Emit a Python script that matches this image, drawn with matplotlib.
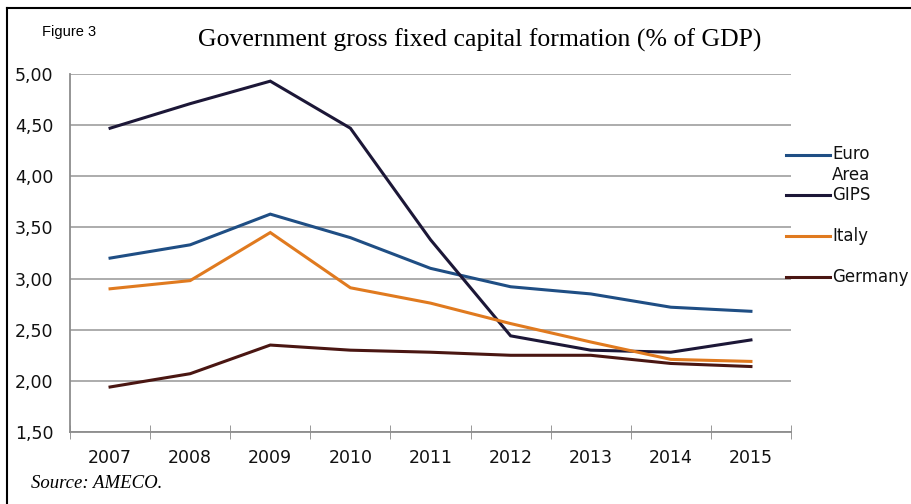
import matplotlib.pyplot as plt
from matplotlib.lines import Line2D
import numpy as np

# Data
years = ['2007', '2008', '2009', '2010', '2011', '2012', '2013', '2014', '2015']
euro_area = [3.20, 3.33, 3.63, 3.40, 3.10, 2.92, 2.85, 2.72, 2.68]
gips = [4.47, 4.71, 4.93, 4.47, 3.38, 2.44, 2.30, 2.28, 2.40]
italy = [2.90, 2.98, 3.45, 2.91, 2.76, 2.56, 2.38, 2.21, 2.19]
germany = [1.94, 2.07, 2.35, 2.30, 2.28, 2.25, 2.25, 2.17, 2.14]

series_names = ['Euro\nArea', 'GIPS', 'Italy', 'Germany']
colors = ['#1f4e84', '#1c1737', '#e07a1f', '#4a1612']

fig = plt.figure(figsize=(9.11, 5.04), dpi=100)
ax = fig.add_axes([70 / 911, 1 - 432 / 504, (791 - 70) / 911, (432 - 74) / 504])

x = np.arange(len(years))
for vals, c in zip([euro_area, gips, italy, germany], colors):
    ax.plot(x, vals, color=c, lw=2.2, solid_joinstyle='miter')

yt = np.arange(1.5, 5.01, 0.5)
ax.set_xlim(-0.5, len(years) - 0.5)
ax.set_ylim(1.5, 5.0)
ax.set_yticks(yt)
ax.set_yticklabels([f'{v:.2f}'.replace('.', ',') for v in yt])
ax.set_xticks(x)
ax.set_xticklabels(years)
ax.set_xticks(np.arange(-0.5, len(years)), minor=True)
ax.tick_params(axis='x', which='major', length=0, pad=12, labelsize=12.5, colors='#111111')
ax.tick_params(axis='x', which='minor', length=10, direction='inout', color='#888888')
ax.tick_params(axis='y', length=0, pad=12, labelsize=12.5, colors='#111111')
ax.grid(axis='y', color='#a6a6a6', lw=1.3)
ax.set_axisbelow(True)
for s in ['top', 'right']:
    ax.spines[s].set_visible(False)
for s in ['left', 'bottom']:
    ax.spines[s].set_color('#8c8c8c')
    ax.spines[s].set_linewidth(1.3)

# legend drawn by hand on the right
leg_y = [155, 195, 236, 277]
for name, c, yy in zip(series_names, colors, leg_y):
    fy = 1 - yy / 504
    fig.add_artist(Line2D([786 / 911, 830 / 911], [fy, fy], color=c, lw=2.2))
    if '\n' in name:
        fig.text(832 / 911, 1 - 145 / 504, name, fontsize=12, va='top', color='#111111', linespacing=1.2)
    else:
        fig.text(832 / 911, fy, name, fontsize=12, va='center', color='#111111')

fig.text(480 / 911, 1 - 40 / 504, 'Government gross fixed capital formation (% of GDP)',
         family='Liberation Serif', fontsize=18.5, ha='center', va='center')
fig.text(42 / 911, 1 - 32 / 504, 'Figure 3', family='Liberation Sans', fontsize=10.5, va='center')
fig.text(31 / 911, 1 - 484 / 504, 'Source: AMECO.', family='Liberation Serif', style='italic',
         fontsize=13.5, va='center')

# frame lines on top and left edge
fig.add_artist(Line2D([7 / 911, 1], [1 - 8 / 504, 1 - 8 / 504], color='black', lw=1.5))
fig.add_artist(Line2D([7 / 911, 7 / 911], [0, 1 - 8 / 504], color='black', lw=1.5))

fig.savefig('out.png', dpi=100)
